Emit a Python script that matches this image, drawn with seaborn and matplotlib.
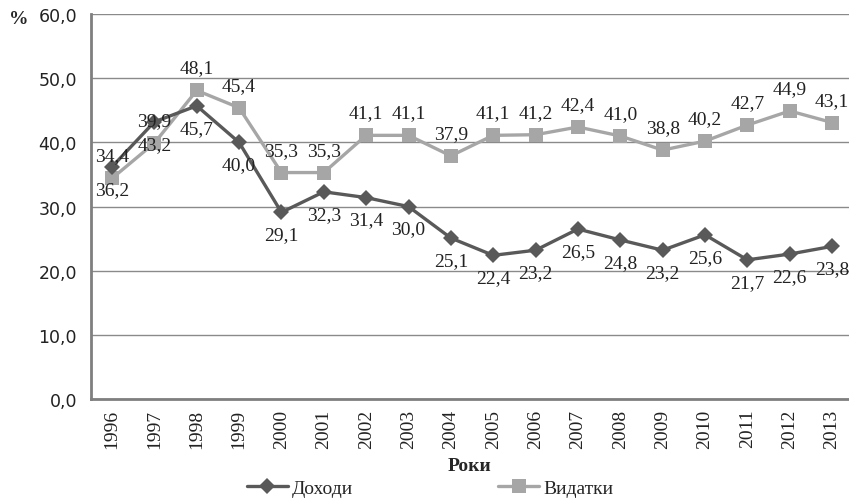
import matplotlib
matplotlib.use("Agg")
import matplotlib.pyplot as plt
import matplotlib.ticker as mticker
import pandas as pd
import seaborn as sns

years = ["1996", "1997", "1998", "1999", "2000", "2001", "2002", "2003", "2004",
         "2005", "2006", "2007", "2008", "2009", "2010", "2011", "2012", "2013"]
dokhody = [36.2, 43.2, 45.7, 40.0, 29.1, 32.3, 31.4, 30.0, 25.1,
           22.4, 23.2, 26.5, 24.8, 23.2, 25.6, 21.7, 22.6, 23.8]
vydatky = [34.4, 39.9, 48.1, 45.4, 35.3, 35.3, 41.1, 41.1, 37.9,
           41.1, 41.2, 42.4, 41.0, 38.8, 40.2, 42.7, 44.9, 43.1]
y_ticks = [0, 10, 20, 30, 40, 50, 60]

sns.set_style("white")
serif = ["Liberation Serif", "DejaVu Serif"]

df = pd.DataFrame({"x": range(len(years)), "Доходи": dokhody, "Видатки": vydatky})

fig = plt.figure(figsize=(8.49, 5.02), dpi=100)
ax = fig.add_axes([0.107, 0.203, 0.893, 0.767])

dark = "#595959"
light = "#a6a6a6"

sns.lineplot(data=df, x="x", y="Доходи", ax=ax, color=dark, lw=2.4,
             marker="D", markersize=8, markeredgewidth=0, label="Доходи", zorder=4)
sns.lineplot(data=df, x="x", y="Видатки", ax=ax, color=light, lw=2.4,
             marker="s", markersize=10, markeredgewidth=0, label="Видатки", zorder=3)

# data labels: expenses above, revenues below
for i, v in enumerate(vydatky):
    ax.annotate(f"{v:.1f}".replace(".", ","), (i, v), xytext=(0, 10),
                textcoords="offset points", ha="center", va="bottom",
                fontsize=14, family=serif, color="#222222", zorder=6)
for i, v in enumerate(dokhody):
    ax.annotate(f"{v:.1f}".replace(".", ","), (i, v), xytext=(0, -10),
                textcoords="offset points", ha="center", va="top",
                fontsize=14, family=serif, color="#222222", zorder=6)

ax.set_ylim(0, 60)
ax.set_xlim(-0.5, 17.4)
ax.set_yticks(y_ticks)
ax.yaxis.set_major_formatter(mticker.FuncFormatter(lambda v, p: f"{v:.1f}".replace(".", ",")))
ax.set_xticks(range(len(years)))
ax.set_xticklabels(years, rotation=90, family=serif, fontsize=14)
ax.tick_params(axis="y", labelsize=12.5, length=0, pad=10, colors="#222222")
ax.tick_params(axis="x", length=0, pad=7, colors="#222222")
ax.grid(axis="y", color="#8a8a8a", lw=1)
ax.set_axisbelow(True)

for s in ["top", "right"]:
    ax.spines[s].set_visible(False)
for s in ["left", "bottom"]:
    ax.spines[s].set_color("#7f7f7f")
    ax.spines[s].set_linewidth(2)

ax.set_ylabel("")
ax.set_xlabel("Роки", family=serif, fontsize=14, fontweight="bold", labelpad=6)
fig.text(9 / 849, 1 - 20 / 502, "%", family=serif, fontsize=14,
         fontweight="bold", ha="left", va="center")

ax.get_legend().remove()
handles, labels = ax.get_legend_handles_labels()
fig.legend(handles, labels, loc="center", bbox_to_anchor=(430 / 849, 1 - 489 / 502),
           ncol=2, frameon=False, prop={"family": serif, "size": 14},
           handlelength=2.1, handletextpad=0.2, columnspacing=7.5)

fig.savefig("out.png", dpi=100)
